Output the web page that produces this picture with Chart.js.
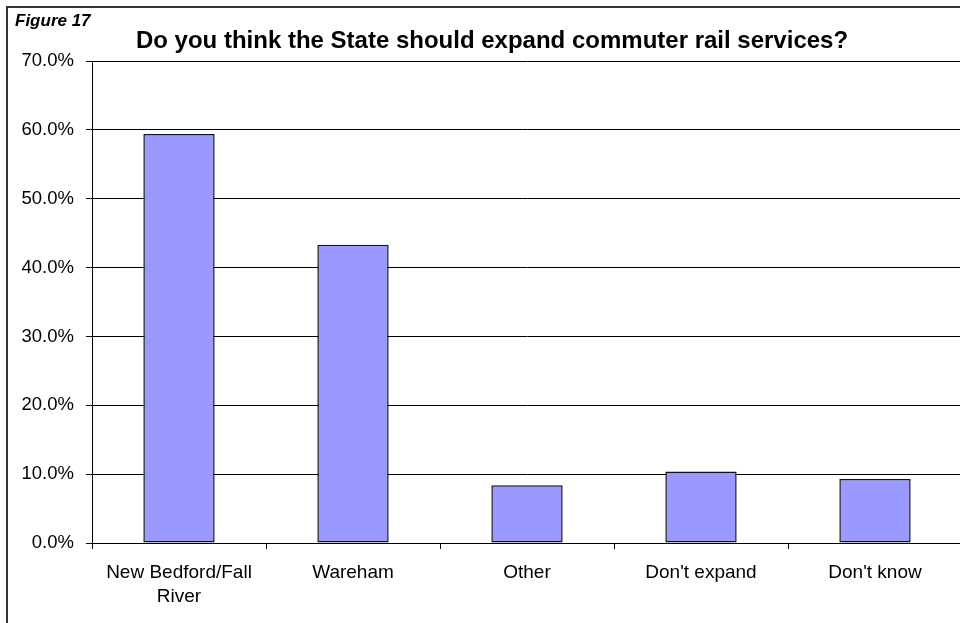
<!DOCTYPE html>
<html>
<head>
<meta charset="utf-8">
<script src="https://cdn.jsdelivr.net/npm/chart.js@4/dist/chart.umd.min.js"></script>
<style>
  html, body { margin: 0; padding: 0; background: #fff; overflow: hidden; }
  #wrap { position: relative; width: 960px; height: 623px; overflow: hidden; }
  #frame {
    position: absolute; left: 6px; top: 6px; width: 980px; height: 640px;
    border-top: 2px solid #333; border-left: 2px solid #333; pointer-events: none;
  }
  canvas { display: block; }
</style>
</head>
<body>
<div id="wrap">
  <canvas id="myChart" width="970" height="623"></canvas>
  <div id="frame"></div>
</div>
<script>
const categories = [['New Bedford/Fall', 'River'], 'Wareham', 'Other', "Don't expand", "Don't know"];
const shares = [59.4, 43.3, 8.4, 10.4, 9.3];
const yTicks = [0, 10, 20, 30, 40, 50, 60, 70];

const font = "Arial, 'Liberation Sans', sans-serif";

// figure number and heading drawn straight onto the canvas
let headings = {
    id: 'headings',
    afterDraw(chart) {
        let ctx = chart.ctx;
        ctx.save();
        ctx.fillStyle = '#000';
        ctx.textBaseline = 'alphabetic';
        ctx.textAlign = 'left';
        ctx.font = 'italic bold 17px ' + font;
        ctx.fillText('Figure 17', 15, 26);
        ctx.textAlign = 'center';
        ctx.font = 'bold 24px ' + font;
        ctx.fillText('Do you think the State should expand commuter rail services?', 492, 48);
        ctx.restore();
    }
};

let ctx = document.getElementById('myChart').getContext('2d');

let myBarChart = new Chart(ctx, {
    type: 'bar',
    data: {
        labels: categories,
        datasets: [{
            data: shares,
            backgroundColor: '#9999ff',
            borderColor: '#111',
            borderWidth: 1.5,
            borderSkipped: false,
            barPercentage: 0.41,
            categoryPercentage: 1
        }]
    },
    options: {
        responsive: false,
        animation: false,
        layout: { padding: { top: 61, right: 8, left: 0, bottom: 0 } },
        plugins: {
            legend: { display: false },
            tooltip: { enabled: false }
        },
        scales: {
            x: {
                grid: { drawOnChartArea: false, drawTicks: true, tickLength: 6, color: '#000' },
                border: { color: '#000', width: 1 },
                ticks: {
                    color: '#000',
                    font: { family: font, size: 19, lineHeight: 1.3 },
                    padding: 11,
                    maxRotation: 0,
                    autoSkip: false
                },
                afterFit(scale) { scale.height = 80; }
            },
            y: {
                min: 0,
                max: 70,
                afterBuildTicks(scale) { scale.ticks = yTicks.map(v => ({ value: v })); },
                grid: { color: '#000', lineWidth: 1, tickLength: 6 },
                border: { color: '#000', width: 1 },
                ticks: {
                    color: '#000',
                    font: { family: font, size: 18.5 },
                    padding: 12,
                    callback: v => v.toFixed(1) + '%'
                },
                afterFit(scale) { scale.width = 92; }
            }
        }
    },
    plugins: [headings]
});
</script>
</body>
</html>
